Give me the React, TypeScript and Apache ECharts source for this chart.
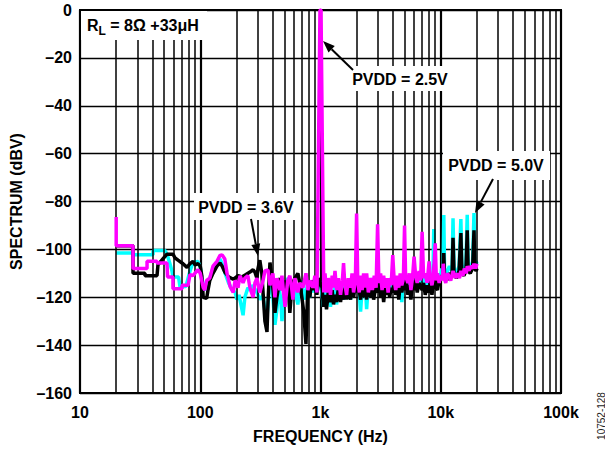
import { useEffect, useRef } from "react";
import * as echarts from "echarts";

// ---------- data ----------
const xTickLabels = ["10", "100", "1k", "10k", "100k"];
const yTickLabels = ["–160", "–140", "–120", "–100", "–80", "–60", "–40", "–20", "0"];
const minorFreqs = [
  20, 30, 40, 50, 60, 70, 80, 90,
  200, 300, 400, 500, 600, 700, 800, 900,
  2000, 3000, 4000, 5000, 6000, 7000, 8000, 9000,
  20000, 30000, 40000, 50000, 60000, 70000, 80000, 90000,
];

// PVDD = 5.0V (cyan)
const pvdd50: [number, number][] = [
  [20, -101.5], [27.6, -101.5], [27.6, -102.2], [40.5, -102.2], [40.5, -100.5], [50.9, -100.5], [52.9, -102],
  [56, -106], [58.2, -109], [59.3, -111.5], [66, -111.5], [67.8, -115.5], [76, -115.5], [79.2, -112], [82.2, -109],
  [87.1, -105.5], [95.7, -105], [100, -107.5], [103, -112], [109, -117], [116, -115.5], [120, -112], [127.6, -108],
  [137.7, -106.5], [146, -104], [152, -106], [161, -110], [172, -114], [184, -117], [195, -118], [202, -121],
  [210, -119], [220, -124], [227, -127.5], [235, -120], [249, -116], [259, -117], [275, -115], [296, -118],
  [313, -121], [333, -119], [345, -126], [359, -128], [373, -118], [390, -114], [402, -120], [418, -131.5],
  [434, -125], [450, -116], [466, -120], [478, -130], [495, -122], [507, -116], [534, -112], [556, -122],
  [575, -116], [590, -119], [612, -113], [630, -120], [648, -123], [673, -116], [700, -113], [730, -121],
  [757, -118], [786, -114], [816, -120], [840, -113], [865, -118], [898, -112], [932, -117], [970, -113],
  [1000, -114], [1030, -119], [1059, -124], [1090, -117], [1122, -122], [1160, -116], [1211, -124], [1250, -117],
  [1283, -121], [1320, -115], [1360, -123], [1410, -117], [1468, -120], [1510, -114], [1555, -121], [1600, -117],
  [1648, -119], [1700, -113], [1778, -121], [1830, -115], [1884, -119], [1940, -114], [2000, -117], [2060, -113],
  [2154, -126], [2220, -116], [2283, -118], [2350, -113], [2419, -125], [2500, -115], [2610, -117], [2700, -112],
  [2766, -119], [2870, -114], [2984, -116], [3060, -112], [3162, -118], [3250, -113], [3351, -117], [3450, -112],
  [3551, -119], [3650, -113], [3763, -116], [3870, -112], [3988, -117], [4100, -112], [4226, -116], [4350, -113],
  [4478, -118], [4600, -112], [4745, -122], [4890, -113], [5029, -115], [5180, -111], [5328, -116], [5480, -112],
  [5647, -118], [5820, -111], [6000, -115], [6180, -111], [6370, -116], [6600, -110], [7000, -114], [7200, -110],
  [7430, -117], [7700, -112], [8000, -115], [8300, -110], [8600, -113], [8750, -91.5], [8900, -112], [9200, -116],
  [9500, -110], [9800, -113], [10200, -108], [10450, -109], [10600, -85.6], [10750, -108], [11200, -110],
  [11800, -107], [12400, -109], [12650, -87], [12900, -108], [13500, -110], [14200, -107], [14700, -87.3],
  [15000, -107], [15600, -109], [16200, -106], [16600, -85.6], [16900, -106], [17600, -108], [18400, -105],
  [18900, -84.8], [19200, -106], [19700, -105], [20000, -106],
];

// PVDD = 3.6V (black)
const pvdd36: [number, number][] = [
  [20, -98.5], [27.6, -98.5], [27.6, -110], [34.7, -110], [34.7, -111], [43.7, -111], [44.5, -106.5], [48.9, -104],
  [52.9, -102], [59.3, -102], [61.6, -103.5], [65.3, -104.5], [71.9, -106], [77.6, -107.5], [82.2, -106], [87.1, -105],
  [90.5, -106.5], [95.7, -106], [100, -107], [103, -111], [105.9, -120], [113, -120.5], [116, -117], [120, -113],
  [127.6, -110], [137.7, -107], [146, -105.7], [152, -107], [160, -109.5], [172, -111.5], [188, -112.5], [195, -112],
  [206, -111], [222, -111.5], [240, -110.5], [259, -109.5], [275, -108.5], [285, -109.5], [296, -112], [302, -108],
  [313, -104.5], [325, -110], [345, -130], [359, -134.5], [366, -122], [380, -105.5], [395, -112], [418, -126.5],
  [434, -120], [460, -112], [478, -117], [495, -113], [507, -116], [534, -113], [556, -126.5], [575, -117],
  [590, -114], [612, -112], [648, -110], [673, -114], [700, -120], [725, -126], [757, -139.5], [786, -114],
  [816, -120], [840, -113], [865, -117], [898, -113], [932, -119], [970, -112], [1030, -116], [1059, -124],
  [1090, -119], [1122, -125], [1160, -118], [1211, -122], [1250, -117], [1283, -123], [1320, -119], [1360, -122],
  [1410, -116], [1468, -122], [1510, -117], [1555, -121], [1600, -116], [1648, -121], [1700, -115], [1778, -121],
  [1830, -116], [1884, -120], [1940, -115], [2000, -118], [2060, -114], [2154, -121], [2220, -116], [2283, -120],
  [2350, -114], [2419, -121], [2500, -115], [2610, -120], [2700, -114], [2766, -121], [2870, -116], [2984, -118],
  [3060, -114], [3162, -120], [3250, -115], [3351, -122], [3450, -116], [3551, -119], [3650, -114], [3763, -120],
  [3870, -116], [3988, -118], [4100, -113], [4226, -119], [4350, -115], [4478, -121], [4600, -114], [4745, -118],
  [4890, -114], [5029, -117], [5180, -113], [5328, -119], [5480, -115], [5647, -121], [5820, -114], [6000, -117],
  [6180, -113], [6370, -118], [6600, -114], [7000, -117], [7200, -114], [7430, -119], [7700, -115], [8000, -118],
  [8200, -114], [8450, -119], [8700, -114], [8900, -106], [9100, -116], [9390, -117], [9700, -113], [10000, -112],
  [10300, -111], [10450, -110], [10600, -101.5], [10750, -111], [11200, -113], [11800, -110], [12400, -111],
  [12650, -95.2], [12900, -110], [13500, -112], [14200, -109], [14700, -93.2], [15000, -110], [15600, -111],
  [16200, -109], [16600, -92], [16900, -109], [17600, -110], [18400, -108], [18900, -92], [19200, -108],
  [19700, -109], [20000, -108],
];

// PVDD = 2.5V (magenta)
const pvdd25: [number, number][] = [
  [20, -86.5], [20, -98.5], [27.6, -98.5], [27.6, -108], [36.1, -108], [36.1, -105], [43.7, -105], [43.7, -105.7],
  [52.9, -105.7], [53.5, -111.5], [59.3, -111.5], [59.3, -116.5], [70.5, -116.5], [70.5, -115], [79.2, -115],
  [82.2, -110.5], [87.1, -111], [95.7, -108.5], [100, -110], [105.9, -116], [109, -117], [113, -113], [120, -112],
  [127.6, -107], [137.7, -105], [146, -102.5], [152, -102.3], [160, -104], [167, -110], [177, -115.5], [188, -118],
  [195, -113], [206, -116], [214, -111], [227, -114], [235, -112], [249, -111], [259, -116], [275, -120], [285, -114],
  [296, -112], [313, -118], [333, -113], [345, -109], [366, -108.6], [380, -115], [402, -110], [418, -120],
  [434, -112], [460, -117], [478, -111], [495, -119], [507, -124], [534, -113], [556, -111], [575, -116],
  [590, -121], [612, -112], [648, -118], [673, -114], [714, -116], [757, -110], [786, -117], [816, -113],
  [865, -116], [898, -111], [935, -118], [990, 0], [1010, 0], [1065, -118], [1090, -110], [1122, -118],
  [1160, -112], [1211, -119], [1250, -111], [1283, -116], [1320, -109], [1360, -117], [1410, -112], [1468, -119],
  [1520, -113], [1555, -105.7], [1590, -114], [1648, -119], [1700, -112], [1778, -116], [1830, -110], [1884, -118],
  [1950, -113], [1996, -85], [2040, -113], [2100, -118], [2154, -111], [2220, -117], [2283, -110], [2350, -116],
  [2419, -110], [2500, -118], [2610, -112], [2700, -117], [2800, -111], [2900, -116], [2984, -89.5], [3060, -114],
  [3162, -110], [3250, -117], [3351, -111], [3450, -116], [3551, -112], [3650, -118], [3763, -112], [3870, -115],
  [3988, -102.4], [4100, -113], [4226, -117], [4350, -111], [4478, -116], [4600, -110], [4745, -115], [4890, -112],
  [5000, -90], [5100, -111], [5328, -114], [5480, -110], [5647, -117], [5820, -112], [6000, -103], [6180, -111],
  [6370, -114], [6600, -109], [6800, -113], [7000, -92.7], [7200, -112], [7430, -110], [7700, -114], [8000, -105],
  [8200, -112], [8450, -115], [8700, -111], [9000, -97.5], [9200, -113], [9390, -110], [9700, -114], [10000, -111],
  [10300, -113], [10500, -106], [10700, -112], [11000, -114], [11400, -110], [12100, -113], [12650, -109],
  [13200, -112], [13700, -110], [14300, -112], [14700, -109], [15300, -111], [15700, -108], [16300, -110],
  [16600, -107], [17200, -109], [17600, -107], [18300, -108], [18900, -106], [19500, -108], [20000, -106],
];

// ---------- styling / layout ----------
const FONT = '"Liberation Sans", Arial, Helvetica, sans-serif';
const BOLD16 = `bold 16px ${FONT}`;

function arrow(x1: number, y1: number, x2: number, y2: number) {
  const dx = x2 - x1;
  const dy = y2 - y1;
  const len = Math.hypot(dx, dy);
  const ux = dx / len;
  const uy = dy / len;
  const L = 12;
  const W = 4.5;
  const bx = x2 - ux * L;
  const by = y2 - uy * L;
  const px = -uy;
  const py = ux;
  return [
    { type: "line", z: 100, shape: { x1, y1, x2: bx, y2: by }, style: { stroke: "#000", lineWidth: 2 } },
    {
      type: "polygon",
      z: 100,
      shape: { points: [[x2, y2], [bx + px * W, by + py * W], [bx - px * W, by - py * W]] },
      style: { fill: "#000" },
    },
  ];
}

function box(x: number, y: number, w: number, h: number) {
  return { type: "rect", z: 90, shape: { x, y, width: w, height: h }, style: { fill: "#fff" } };
}

function label(text: string, x: number, y: number) {
  return {
    type: "text",
    z: 101,
    style: { text, x, y, font: BOLD16, fill: "#000", textAlign: "center", textVerticalAlign: "middle" },
  };
}

export default function App() {
  const ref = useRef<HTMLDivElement>(null);

  useEffect(() => {
    const chart = echarts.init(ref.current!, null, { renderer: "svg" });
    const lineSeries = (name: string, data: [number, number][], color: string, z: number) => ({
      name,
      type: "line",
      data,
      z,
      symbol: "none",
      showSymbol: false,
      clip: true,
      silent: true,
      lineStyle: { color, width: 3.5 },
      itemStyle: { color },
    });

    const option: any = {
      animation: false,
      backgroundColor: "#fff",
      grid: { left: 80, right: 44, top: 10, bottom: 56, show: true, borderColor: "#000", borderWidth: 2 },
      xAxis: {
        type: "log",
        logBase: 10,
        min: 10,
        max: 100000,
        name: "FREQUENCY (Hz)",
        nameLocation: "middle",
        nameGap: 35,
        nameTextStyle: { fontFamily: FONT, fontWeight: "bold", fontSize: 16, color: "#000" },
        axisLine: { show: true, lineStyle: { color: "#000", width: 2 } },
        axisTick: { show: false },
        axisLabel: {
          margin: 11,
          fontFamily: FONT,
          fontWeight: "bold",
          fontSize: 16,
          color: "#000",
          formatter: (v: number) => xTickLabels[Math.round(Math.log10(v)) - 1] ?? "",
        },
        splitLine: { show: true, lineStyle: { color: "#000", width: 2.2 } },
      },
      yAxis: {
        type: "value",
        min: -160,
        max: 0,
        interval: 20,
        name: "SPECTRUM (dBV)",
        nameLocation: "middle",
        nameGap: 56,
        nameTextStyle: { fontFamily: FONT, fontWeight: "bold", fontSize: 16, color: "#000" },
        axisLine: { show: true, lineStyle: { color: "#000", width: 2 } },
        axisTick: { show: false },
        axisLabel: {
          margin: 8,
          fontFamily: FONT,
          fontWeight: "bold",
          fontSize: 16,
          color: "#000",
          formatter: (v: number) => yTickLabels[Math.round((v + 160) / 20)] ?? "",
        },
        splitLine: { show: true, lineStyle: { color: "#000", width: 1.4 } },
      },
      series: [
        {
          type: "line",
          data: [[10, -160]],
          symbol: "none",
          showSymbol: false,
          silent: true,
          z: 1,
          lineStyle: { width: 0 },
          markLine: {
            silent: true,
            animation: false,
            symbol: ["none", "none"],
            label: { show: false },
            lineStyle: { color: "#000", width: 1.5, type: "solid" },
            emphasis: { disabled: true },
            data: minorFreqs.map((f) => ({ xAxis: f })),
          },
        },
        lineSeries("PVDD = 5.0V", pvdd50, "#00FFFF", 3),
        lineSeries("PVDD = 3.6V", pvdd36, "#000000", 4),
        lineSeries("PVDD = 2.5V", pvdd25, "#FF00FF", 5),
      ],
      graphic: {
        elements: [
          box(81, 11, 126, 29),
          {
            type: "text",
            z: 101,
            style: {
              text: "{r|R}{s|L}{r| = 8Ω +33μH}",
              x: 87,
              y: 25,
              textAlign: "left",
              textVerticalAlign: "middle",
              fill: "#000",
              rich: {
                r: { fontFamily: FONT, fontWeight: "bold", fontSize: 16, lineHeight: 23, fill: "#000" },
                s: { fontFamily: FONT, fontWeight: "bold", fontSize: 12, verticalAlign: "bottom", fill: "#000" },
              },
            },
          },
          box(194, 193, 107, 27),
          label("PVDD = 3.6V", 246, 207),
          ...arrow(251, 219, 258, 256),
          box(346, 66, 108, 25),
          label("PVDD = 2.5V", 400, 79),
          ...arrow(353, 70, 323, 41),
          box(443, 151, 107, 29),
          label("PVDD = 5.0V", 496, 165),
          ...arrow(493, 179, 475, 213),
          {
            type: "text",
            z: 101,
            rotation: Math.PI / 2,
            x: 601,
            y: 416,
            style: {
              text: "10752-128",
              x: 0,
              y: 0,
              font: `10px ${FONT}`,
              fill: "#222",
              textAlign: "center",
              textVerticalAlign: "middle",
            },
          },
        ],
      },
    };

    chart.setOption(option);
    return () => chart.dispose();
  }, []);

  return (
    <div
      ref={ref}
      style={{ position: "absolute", left: 0, top: 0, width: 605, height: 449, background: "#fff" }}
    />
  );
}
